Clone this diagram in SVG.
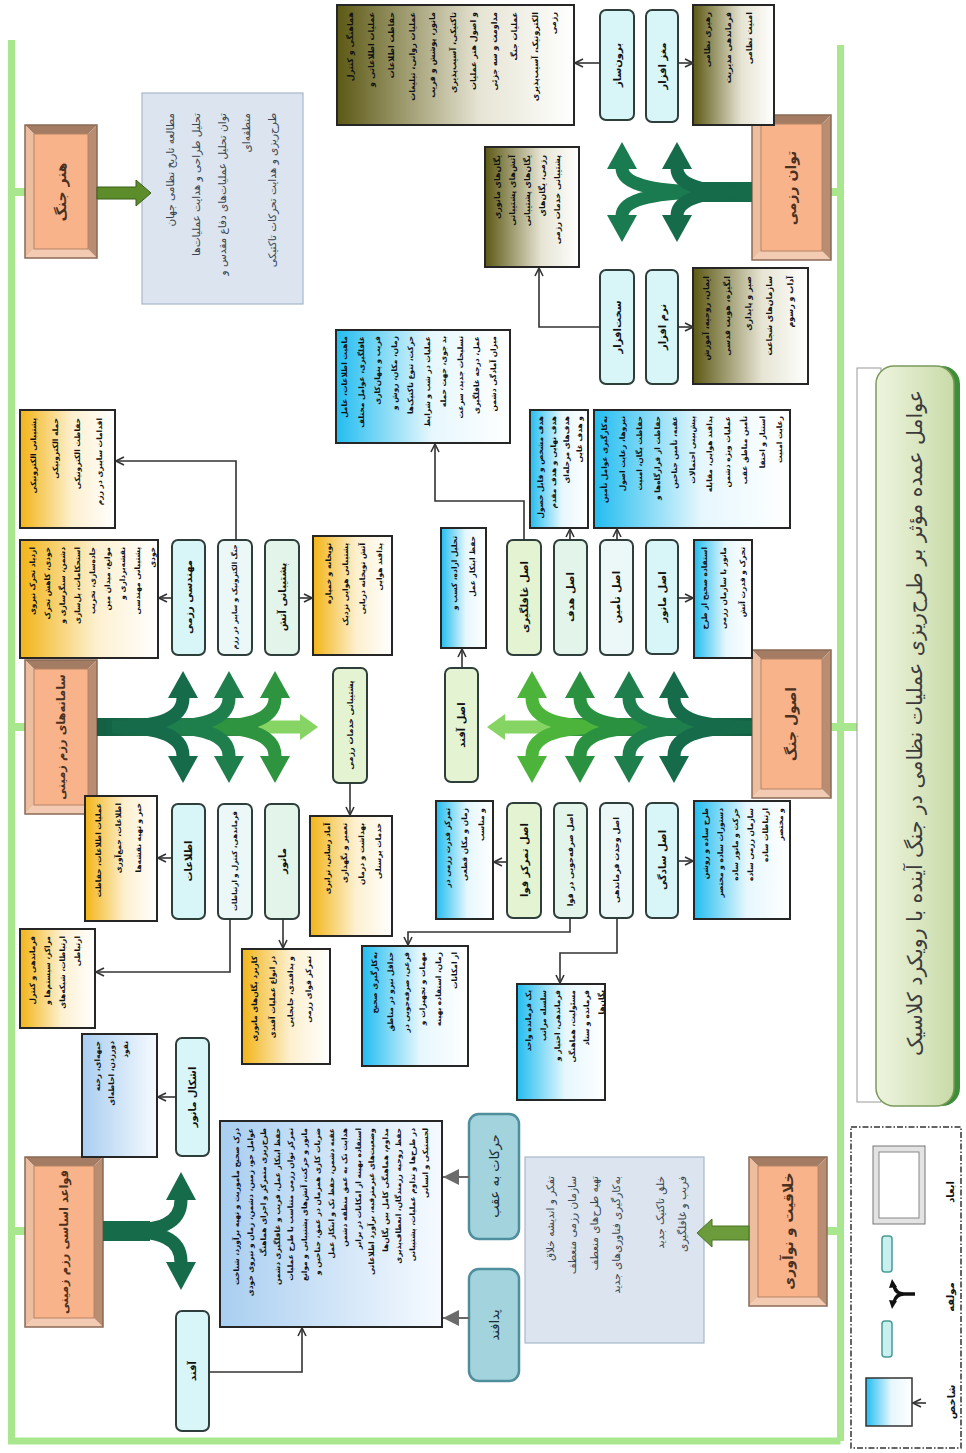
<svg xmlns="http://www.w3.org/2000/svg" width="966" height="1453" viewBox="0 0 966 1453">
<defs>
<style>
text{font-family:"DejaVu Sans","Noto Sans",sans-serif;dominant-baseline:central}
.l{font-size:10px;font-weight:bold;fill:#111;text-anchor:middle}
.ls{font-size:8px;font-weight:bold;fill:#111;text-anchor:middle}
.lx{font-size:7px;font-weight:bold;fill:#111;text-anchor:middle}
.t{font-size:13px;fill:#1d2b30;text-anchor:middle}
.o{font-size:14px;font-weight:bold;fill:#4a3020;text-anchor:middle}
.os{font-size:11.5px;font-weight:bold;fill:#4a3020;text-anchor:middle}
.p{font-size:7.5px;font-weight:bold;fill:#111;text-anchor:end}
.pb{font-size:8px;font-weight:bold;fill:#111;text-anchor:end}
.d{font-size:10.5px;fill:#3a4450;text-anchor:end}
.ti{font-size:20.5px;fill:#3b3b3b;text-anchor:middle}
.bx{stroke:#2e3e3a;stroke-width:2}
.c1{fill:#d8f5f7}.c2{fill:#e4f4d3}.c3{fill:#e3f5ea}.c4{fill:#ecf8f7}
.tl{fill:#a3d4de;stroke:#4f8e9c;stroke-width:2.5}
.gb{fill:url(#gB);stroke:#262626;stroke-width:2}
.gg{fill:url(#gG);stroke:#262626;stroke-width:2}
.go{fill:url(#gO);stroke:#262626;stroke-width:2}
.gl{fill:url(#gL);stroke:#262626;stroke-width:2}
.cn{fill:none;stroke:#333;stroke-width:1.6;marker-end:url(#ah)}
.cg{fill:none;stroke:#666;stroke-width:2;marker-end:url(#ag)}
.fr{stroke:#a9e78e;fill:none}
.desc{fill:#dbe4ef;stroke:#a7b7ca;stroke-width:1.2}
.bt{fill:#a47c63}.bb{fill:#f3cbb2}.bl{fill:#ecbd9f}.br{fill:#b98d72}.bi{fill:#f9b38a;stroke:#b58366;stroke-width:1}.bo{fill:none;stroke:#8a6a56;stroke-width:1.5}
.fk{fill:none;stroke-width:13}
</style>
<linearGradient id="gB" x1="0" y1="0" x2="1" y2="0"><stop offset="0" stop-color="#22bdf0"/><stop offset="0.55" stop-color="#e6f7fd"/><stop offset="1" stop-color="#fff"/></linearGradient>
<linearGradient id="gG" x1="0" y1="0" x2="1" y2="0"><stop offset="0" stop-color="#f2b417"/><stop offset="0.55" stop-color="#fdf0cf"/><stop offset="1" stop-color="#fff"/></linearGradient>
<linearGradient id="gO" x1="0" y1="0" x2="1" y2="0"><stop offset="0" stop-color="#5c5814"/><stop offset="0.6" stop-color="#e6e4d3"/><stop offset="1" stop-color="#fff"/></linearGradient>
<linearGradient id="gL" x1="0" y1="0" x2="1" y2="0"><stop offset="0" stop-color="#a9cef0"/><stop offset="1" stop-color="#f6faff"/></linearGradient>
<linearGradient id="gT" x1="0" y1="0" x2="1" y2="0"><stop offset="0" stop-color="#eef4df"/><stop offset="1" stop-color="#c9dba8"/></linearGradient>
<linearGradient id="gA" gradientUnits="userSpaceOnUse" x1="97" y1="0" x2="300" y2="0"><stop offset="0" stop-color="#125f45"/><stop offset="1" stop-color="#3f9f45"/></linearGradient>
<linearGradient id="gK" gradientUnits="userSpaceOnUse" x1="752" y1="0" x2="490" y2="0"><stop offset="0" stop-color="#125f45"/><stop offset="1" stop-color="#4aae3f"/></linearGradient>
<marker id="ah" markerWidth="10" markerHeight="10" refX="9" refY="5" orient="auto" markerUnits="userSpaceOnUse"><path d="M1,1 L9,5 L1,9" fill="none" stroke="#333" stroke-width="1.6"/></marker>
<marker id="ag" markerWidth="18" markerHeight="16" refX="16" refY="8" orient="auto" markerUnits="userSpaceOnUse"><path d="M0,0 L16,8 L0,16 z" fill="#6b6b6b"/></marker>
</defs>
<rect width="966" height="1453" fill="#fff"/>

<g id="frame">
<path class="fr" stroke-width="7" d="M11.5 40 V1441 H840.5 M840.5 45 V1441"/>
<path class="fr" stroke-width="8" d="M11 192 H25 M11 727 H25 M11 1231 H25 M831 192 H844 M831 727 H857 M827 1231 H844"/>
</g>

<g id="title">
<rect x="857" y="368" width="24" height="734" fill="#fff" stroke="#9a9a9a"/>
<rect x="880" y="366" width="80" height="740" rx="18" fill="#3e8e37"/>
<rect x="876" y="366" width="78" height="740" rx="18" fill="url(#gT)" stroke="#7a9a5a" stroke-width="1.5"/>
<text class="ti" transform="translate(915 723) rotate(-90)">عوامل عمده مؤثر بر طرح‌ریزی عملیات نظامی در جنگ آینده با رویکرد کلاسیک</text>
</g>

<g id="honar-jang">
<polygon class="bt" points="25,125 97,125 88,134 34,134"/><polygon class="bb" points="25,258 97,258 88,249 34,249"/><polygon class="bl" points="25,125 34,134 34,249 25,258"/><polygon class="br" points="97,125 88,134 88,249 97,258"/><rect class="bi" x="34" y="134" width="54" height="115"/><rect class="bo" x="25" y="125" width="72" height="133"/>
<text class="o" transform="translate(61 192) rotate(-90)">هنر جنگ</text>
</g>
<g id="honar-desc">
<rect class="desc" x="142" y="93" width="161" height="211"/>
<text class="d" transform="translate(170 113) rotate(-90)"><tspan x="0" dy="0">مطالعه تاریخ نظامی جهان</tspan><tspan x="0" dy="26">تحلیل طراحی و هدایت عملیات‌ها</tspan><tspan x="0" dy="26">توان تحلیل عملیات‌های دفاع مقدس و</tspan><tspan x="0" dy="24">منطقه‌ای</tspan><tspan x="0" dy="26">طرح‌ریزی و هدایت تحرکات تاکتیکی</tspan></text>
</g>

<g id="tavan-razmi">
<polygon class="bt" points="752,115 831,115 822,124 761,124"/><polygon class="bb" points="752,260 831,260 822,251 761,251"/><polygon class="bl" points="752,115 761,124 761,251 752,260"/><polygon class="br" points="831,115 822,124 822,251 831,260"/><rect class="bi" x="761" y="124" width="61" height="127"/><rect class="bo" x="752" y="115" width="79" height="145"/>
<text class="o" transform="translate(791 188) rotate(-90)">توان رزمی</text>
</g>

<g id="saman">
<polygon class="bt" points="25,660 97,660 88,669 34,669"/><polygon class="bb" points="25,814 97,814 88,805 34,805"/><polygon class="bl" points="25,660 34,669 34,805 25,814"/><polygon class="br" points="97,660 88,669 88,805 97,814"/><rect class="bi" x="34" y="669" width="54" height="136"/><rect class="bo" x="25" y="660" width="72" height="154"/>
<text class="os" transform="translate(61 737) rotate(-90)">سامانه‌های رزم زمینی</text>
</g>

<g id="osul-jang">
<polygon class="bt" points="752,650 831,650 822,659 761,659"/><polygon class="bb" points="752,798 831,798 822,789 761,789"/><polygon class="bl" points="752,650 761,659 761,789 752,798"/><polygon class="br" points="831,650 822,659 822,789 831,798"/><rect class="bi" x="761" y="659" width="61" height="130"/><rect class="bo" x="752" y="650" width="79" height="148"/>
<text class="o" transform="translate(791 724) rotate(-90)">اصول جنگ</text>
</g>

<g id="ghavaed">
<polygon class="bt" points="25,1157 103,1157 94,1166 34,1166"/><polygon class="bb" points="25,1327 103,1327 94,1318 34,1318"/><polygon class="bl" points="25,1157 34,1166 34,1318 25,1327"/><polygon class="br" points="103,1157 94,1166 94,1318 103,1327"/><rect class="bi" x="34" y="1166" width="60" height="152"/><rect class="bo" x="25" y="1157" width="78" height="170"/>
<text class="os" transform="translate(64 1242) rotate(-90)">قواعد اساسی رزم زمینی</text>
</g>

<g id="khalaghiat">
<polygon class="bt" points="749,1157 827,1157 818,1166 758,1166"/><polygon class="bb" points="749,1306 827,1306 818,1297 758,1297"/><polygon class="bl" points="749,1157 758,1166 758,1297 749,1306"/><polygon class="br" points="827,1157 818,1166 818,1297 827,1306"/><rect class="bi" x="758" y="1166" width="60" height="131"/><rect class="bo" x="749" y="1157" width="78" height="149"/>
<text class="o" transform="translate(788 1231) rotate(-90)">خلاقیت و نوآوری</text>
</g>
<g id="khalaghiat-desc">
<rect class="desc" x="525" y="1157" width="179" height="186"/>
<text class="d" transform="translate(550 1176) rotate(-90)"><tspan x="0" dy="0">تفکر و اندیشه خلاق</tspan><tspan x="0" dy="22">سازمان رزمی منعطف</tspan><tspan x="0" dy="22">تهیه طرح‌های منعطف</tspan><tspan x="0" dy="22">به‌کارگیری فناوری‌های جدید</tspan><tspan x="0" dy="44">خلق تاکتیک جدید</tspan><tspan x="0" dy="22">فریب و غافلگیری</tspan></text>
</g>

<g id="n-borunsaz"><rect class="bx c1" x="600" y="10" width="34" height="110" rx="6"/><text class="l" transform="translate(617 65) rotate(-90)">برون‌ساز</text></g>
<g id="n-maghz"><rect class="bx c1" x="646" y="10" width="32" height="112" rx="6"/><text class="l" transform="translate(662 66) rotate(-90)">مغز افزار</text></g>
<g id="n-sakht"><rect class="bx c1" x="600" y="270" width="34" height="114" rx="6"/><text class="l" transform="translate(617 327) rotate(-90)">سخت‌افزار</text></g>
<g id="n-narm"><rect class="bx c1" x="646" y="270" width="32" height="114" rx="6"/><text class="l" transform="translate(662 327) rotate(-90)">نرم افزار</text></g>

<g id="o1"><rect class="go" x="337" y="5" width="237" height="120"/>
<text class="pb" transform="translate(350 12) rotate(-90)"><tspan x="0" dy="0">هماهنگی و کنترل</tspan><tspan x="0" dy="20.5">عملیات اطلاعاتی و</tspan><tspan x="0" dy="20.5">حفاظت اطلاعات</tspan><tspan x="0" dy="20.5">عملیات روانی، تبلیغات</tspan><tspan x="0" dy="20.5">مانور، پوشش و فریب</tspan><tspan x="0" dy="20.5">تاکتیکی، آسیب‌پذیری</tspan><tspan x="0" dy="20.5">و اصول هنر عملیات</tspan><tspan x="0" dy="20.5">مداومت و سه جزئی</tspan><tspan x="0" dy="20.5">عملیات جنگ</tspan><tspan x="0" dy="20.5">الکترونیک، آسیب‌پذیری</tspan><tspan x="0" dy="18">رزمی</tspan></text></g>
<g id="o2"><rect class="go" x="485" y="147" width="94" height="120"/>
<text class="pb" transform="translate(497 155) rotate(-90)"><tspan x="0" dy="0">یگان‌های مانوری</tspan><tspan x="0" dy="15">آتش‌های پشتیبانی</tspan><tspan x="0" dy="15">یگان‌های پشتیبانی</tspan><tspan x="0" dy="15">رزمی، یگان‌های</tspan><tspan x="0" dy="15">پشتیبانی خدمات رزمی</tspan></text></g>
<g id="o3"><rect class="go" x="693" y="5" width="81" height="120"/>
<text class="pb" transform="translate(707 12) rotate(-90)"><tspan x="0" dy="0">رهبری نظامی</tspan><tspan x="0" dy="21">فرماندهی مدیریت</tspan><tspan x="0" dy="21">امنیت نظامی</tspan></text></g>
<g id="o4"><rect class="go" x="693" y="268" width="115" height="116"/>
<text class="pb" transform="translate(706 276) rotate(-90)"><tspan x="0" dy="0">ایمان، روحیه، آموزش</tspan><tspan x="0" dy="21">انگیزه، هویت قدسی</tspan><tspan x="0" dy="21">صبر و پایداری</tspan><tspan x="0" dy="21">سازمان‌های شجاعت</tspan><tspan x="0" dy="21">آداب و رسوم</tspan></text></g>

<g id="n-afand-asl"><rect class="bx c2" x="445" y="668" width="33" height="114" rx="6"/><text class="l" transform="translate(461.5 725) rotate(-90)">اصل آفند</text></g>
<g id="n-ghafel"><rect class="bx c2" x="507" y="540" width="34" height="115" rx="6"/><text class="l" transform="translate(524 597) rotate(-90)">اصل غافلگیری</text></g>
<g id="n-hadaf"><rect class="bx c3" x="554" y="540" width="33" height="115" rx="6"/><text class="l" transform="translate(570.5 597) rotate(-90)">اصل هدف</text></g>
<g id="n-tamin"><rect class="bx c4" x="600" y="540" width="33" height="115" rx="6"/><text class="l" transform="translate(616.5 597) rotate(-90)">اصل تأمین</text></g>
<g id="n-manovr-asl"><rect class="bx c1" x="646" y="540" width="32" height="114" rx="6"/><text class="l" transform="translate(662 597) rotate(-90)">اصل مانور</text></g>
<g id="n-tamarkoz"><rect class="bx c2" x="507" y="803" width="34" height="115" rx="6"/><text class="l" transform="translate(524 860) rotate(-90)">اصل تمرکز قوا</text></g>
<g id="n-sarfe"><rect class="bx c3" x="554" y="803" width="33" height="115" rx="6"/><text class="ls" transform="translate(570.5 860) rotate(-90)">اصل صرفه‌جویی در قوا</text></g>
<g id="n-vahdat"><rect class="bx c4" x="600" y="803" width="33" height="115" rx="6"/><text class="ls" transform="translate(616.5 860) rotate(-90)">اصل وحدت فرماندهی</text></g>
<g id="n-sadegi"><rect class="bx c1" x="646" y="803" width="32" height="115" rx="6"/><text class="l" transform="translate(662 860) rotate(-90)">اصل سادگی</text></g>

<g id="b1"><rect class="gb" x="336" y="330" width="174" height="113"/>
<text class="p" transform="translate(344 336) rotate(-90)"><tspan x="0" dy="0">ماهیت اطلاعات، عامل</tspan><tspan x="0" dy="16.5">غافلگیری، عوامل مختلف</tspan><tspan x="0" dy="16.5">فریب و پنهان‌کاری</tspan><tspan x="0" dy="16.5">زمان، مکان، روش و</tspan><tspan x="0" dy="16.5">حرکت، تنوع تاکتیک‌ها</tspan><tspan x="0" dy="16.5">عملیات در شب و شرایط</tspan><tspan x="0" dy="16.5">بد جوی، جهت حمله</tspan><tspan x="0" dy="16.5">تسلیحات جدید، سرعت</tspan><tspan x="0" dy="16.5">عمل، درجه غافلگیری</tspan><tspan x="0" dy="16.5">میزان آمادگی دشمن</tspan></text></g>
<g id="b2"><rect class="gb" x="530" y="410" width="58" height="118"/>
<text class="p" transform="translate(540 416) rotate(-90)"><tspan x="0" dy="0">هدف مشخص و قابل حصول</tspan><tspan x="0" dy="13">هدف نهایی و هدف مقدم</tspan><tspan x="0" dy="13">هدف‌های مرحله‌ای</tspan><tspan x="0" dy="13">و هدف غایی</tspan></text></g>
<g id="b3"><rect class="gb" x="594" y="410" width="196" height="118"/>
<text class="p" transform="translate(604 416) rotate(-90)"><tspan x="0" dy="0">به‌کارگیری عوامل تأمین</tspan><tspan x="0" dy="17.5">نیروها، رعایت اصول</tspan><tspan x="0" dy="17.5">حفاظت یگان، امنیت</tspan><tspan x="0" dy="17.5">حفاظت از قرارگاه‌ها و</tspan><tspan x="0" dy="17.5">عقبه، تأمین جناحین</tspan><tspan x="0" dy="17.5">پیش‌بینی احتمالات</tspan><tspan x="0" dy="17.5">پدافند هوایی، مقابله</tspan><tspan x="0" dy="17.5">عملیات ویژه دشمن</tspan><tspan x="0" dy="17.5">تأمین مناطق عقب</tspan><tspan x="0" dy="17.5">استتار و اختفا</tspan><tspan x="0" dy="17.5">رعایت امنیت</tspan></text></g>
<g id="b4"><rect class="gb" x="694" y="540" width="58" height="118"/>
<text class="p" transform="translate(704 547) rotate(-90)"><tspan x="0" dy="0">استفاده صحیح از طرح</tspan><tspan x="0" dy="19">مانور با سازمان رزمی</tspan><tspan x="0" dy="19">تحرک و قدرت آتش</tspan></text></g>
<g id="b5"><rect class="gb" x="694" y="801" width="96" height="118"/>
<text class="p" transform="translate(705 808) rotate(-90)"><tspan x="0" dy="0">طرح ساده و روشن</tspan><tspan x="0" dy="15">دستورات ساده و مختصر</tspan><tspan x="0" dy="15">حرکت و مانور ساده</tspan><tspan x="0" dy="15">سازمان رزمی ساده</tspan><tspan x="0" dy="15">ارتباطات ساده</tspan><tspan x="0" dy="15">و مختصر</tspan></text></g>
<g id="b6"><rect class="gb" x="436" y="801" width="57" height="118"/>
<text class="p" transform="translate(447 808) rotate(-90)"><tspan x="0" dy="0">تمرکز قدرت رزمی در</tspan><tspan x="0" dy="17">زمان و مکان قطعی</tspan><tspan x="0" dy="17">و مناسب</tspan></text></g>
<g id="b7"><rect class="gb" x="362" y="946" width="106" height="120"/>
<text class="p" transform="translate(374 952) rotate(-90)"><tspan x="0" dy="0">به‌کارگیری صحیح</tspan><tspan x="0" dy="16">حداقل نیرو در مناطق</tspan><tspan x="0" dy="16">فرعی، صرفه‌جویی در</tspan><tspan x="0" dy="16">مهمات و تجهیزات و</tspan><tspan x="0" dy="16">زمان، استفاده بهینه</tspan><tspan x="0" dy="16">از امکانات</tspan></text></g>
<g id="b8"><rect class="gb" x="517" y="984" width="88" height="116"/>
<text class="p" transform="translate(528 990) rotate(-90)"><tspan x="0" dy="0">یک فرمانده واحد</tspan><tspan x="0" dy="14.5">سلسله مراتب</tspan><tspan x="0" dy="14.5">فرماندهی، اختیار و</tspan><tspan x="0" dy="14.5">مسئولیت، هماهنگی</tspan><tspan x="0" dy="14.5">فرمانده و ستاد</tspan><tspan x="0" dy="14.5">یگان‌ها</tspan></text></g>
<g id="b9"><rect class="gb" x="441" y="528" width="45" height="120"/>
<text class="p" transform="translate(454 536) rotate(-90)"><tspan x="0" dy="0">تحلیل اراده، کسب و</tspan><tspan x="0" dy="18">حفظ ابتکار عمل</tspan></text></g>

<g id="n-poshtibani-khadamat"><rect class="bx c2" x="333" y="668" width="34" height="115" rx="6"/><text class="ls" transform="translate(350 725) rotate(-90)">پشتیبانی خدمات رزمی</text></g>
<g id="n-mohandesi"><rect class="bx c1" x="172" y="540" width="33" height="115" rx="6"/><text class="l" transform="translate(188.5 597) rotate(-90)">مهندسی رزمی</text></g>
<g id="n-jang-elec"><rect class="bx c4" x="218" y="540" width="34" height="115" rx="6"/><text class="lx" transform="translate(235 597) rotate(-90)">جنگ الکترونیک و سایبر در رزم</text></g>
<g id="n-atash"><rect class="bx c3" x="265" y="540" width="34" height="115" rx="6"/><text class="l" transform="translate(282 597) rotate(-90)">پشتیبانی آتش</text></g>
<g id="n-ettelaat"><rect class="bx c1" x="172" y="804" width="33" height="115" rx="6"/><text class="l" transform="translate(188.5 861) rotate(-90)">اطلاعات</text></g>
<g id="n-farmandehi"><rect class="bx c4" x="218" y="804" width="34" height="115" rx="6"/><text class="lx" transform="translate(235 861) rotate(-90)">فرماندهی، کنترل و ارتباطات</text></g>
<g id="n-manovr"><rect class="bx c3" x="265" y="804" width="34" height="115" rx="6"/><text class="l" transform="translate(282 861) rotate(-90)">مانور</text></g>

<g id="g1"><rect class="gg" x="20" y="410" width="95" height="118"/>
<text class="p" transform="translate(33 418) rotate(-90)"><tspan x="0" dy="0">پشتیبانی الکترونیکی</tspan><tspan x="0" dy="22">حمله الکترونیکی</tspan><tspan x="0" dy="22">حفاظت الکترونیکی</tspan><tspan x="0" dy="22">اقدامات سایبری در رزم</tspan></text></g>
<g id="g2"><rect class="gg" x="20" y="540" width="138" height="118"/>
<text class="p" transform="translate(32 547) rotate(-90)"><tspan x="0" dy="0">ازدیاد تحرک نیروی</tspan><tspan x="0" dy="15">خودی، کاهش تحرک</tspan><tspan x="0" dy="15">دشمن، سنگرسازی و</tspan><tspan x="0" dy="15">استحکامات، پل‌سازی</tspan><tspan x="0" dy="15">جاده‌سازی، تخریب</tspan><tspan x="0" dy="15">موانع، میدان مین</tspan><tspan x="0" dy="15">نقشه‌برداری و</tspan><tspan x="0" dy="15">پشتیبانی مهندسی</tspan><tspan x="0" dy="15">خودی</tspan></text></g>
<g id="g3"><rect class="gg" x="313" y="536" width="79" height="119"/>
<text class="p" transform="translate(328 543) rotate(-90)"><tspan x="0" dy="0">توپخانه و خمپاره</tspan><tspan x="0" dy="17">پشتیبانی هوایی نزدیک</tspan><tspan x="0" dy="17">آتش توپخانه دریایی</tspan><tspan x="0" dy="17">پدافند هوایی</tspan></text></g>
<g id="g4"><rect class="gg" x="310" y="816" width="82" height="120"/>
<text class="p" transform="translate(327 823) rotate(-90)"><tspan x="0" dy="0">آماد رسانی، ترابری</tspan><tspan x="0" dy="17">تعمیر و نگهداری</tspan><tspan x="0" dy="17">بهداشت و درمان</tspan><tspan x="0" dy="17">خدمات پرسنلی</tspan></text></g>
<g id="g5"><rect class="gg" x="85" y="796" width="72" height="125"/>
<text class="p" transform="translate(98 803) rotate(-90)"><tspan x="0" dy="0">عملیات اطلاعات، حفاظت</tspan><tspan x="0" dy="20">اطلاعات، جمع‌آوری</tspan><tspan x="0" dy="20">خبر و تهیه نقشه‌ها</tspan></text></g>
<g id="g6"><rect class="gg" x="20" y="929" width="75" height="99"/>
<text class="p" transform="translate(32 936) rotate(-90)"><tspan x="0" dy="0">فرماندهی و کنترل</tspan><tspan x="0" dy="15">مراکز، سیستم‌ها و</tspan><tspan x="0" dy="15">ارتباطات، شبکه‌های</tspan><tspan x="0" dy="15">ارتباطی</tspan></text></g>
<g id="g7"><rect class="gg" x="242" y="949" width="88" height="115"/>
<text class="p" transform="translate(254 956) rotate(-90)"><tspan x="0" dy="0">کاربرد یگان‌های مانوری</tspan><tspan x="0" dy="18">در انواع عملیات آفندی</tspan><tspan x="0" dy="18">و پدافندی، جابجایی</tspan><tspan x="0" dy="18">تمرکز قوای رزمی</tspan></text></g>

<g id="n-ashkal"><rect class="bx c1" x="176" y="1038" width="33" height="118" rx="6"/><text class="l" transform="translate(192.5 1097) rotate(-90)">اشکال مانور</text></g>
<g id="lb"><rect class="gl" x="82" y="1034" width="75" height="123"/>
<text class="p" transform="translate(97 1041) rotate(-90)"><tspan x="0" dy="0">جبهه‌ای، رخنه</tspan><tspan x="0" dy="14">دورزدن، احاطه‌ای</tspan><tspan x="0" dy="14">نفوذ</tspan></text></g>
<g id="n-afand"><rect class="bx c1" x="176" y="1311" width="33" height="120" rx="6"/><text class="l" transform="translate(192.5 1371) rotate(-90)">آفند</text></g>
<g id="n-harakat"><rect class="tl" x="469" y="1114" width="50" height="125" rx="10"/><text class="t" transform="translate(494 1176) rotate(-90)">حرکات به عقب</text></g>
<g id="n-padafand"><rect class="tl" x="469" y="1269" width="50" height="112" rx="10"/><text class="t" transform="translate(494 1325) rotate(-90)">پدافند</text></g>
<g id="q"><rect class="gl" x="220" y="1121" width="222" height="206"/>
<text class="p" transform="translate(236 1128) rotate(-90)"><tspan x="0" dy="0">درک صحیح مأموریت و تهیه برآورد، شناخت</tspan><tspan x="0" dy="13.5">عوامل جو، زمین، دشمن، زمان و نیروی خودی</tspan><tspan x="0" dy="13.5">طرح‌ریزی متمرکز و اجرای هماهنگ</tspan><tspan x="0" dy="13.5">حفظ ابتکار عمل، فریب و غافلگیری دشمن</tspan><tspan x="0" dy="13.5">تمرکز توان رزمی متناسب با طرح عملیات</tspan><tspan x="0" dy="13.5">مانور و حرکت، آتش‌های پشتیبانی و موانع</tspan><tspan x="0" dy="13.5">ضربات کاری همزمان در عمق، جناحین و</tspan><tspan x="0" dy="13.5">عقبه دشمن، حفظ تک و ابتکار عمل</tspan><tspan x="0" dy="13.5">هدایت تک به عمق منطقه دشمن</tspan><tspan x="0" dy="13.5">استفاده بهینه از امکانات در برابر</tspan><tspan x="0" dy="13.5">وضعیت‌های غیرمترقبه، برآورد اطلاعاتی</tspan><tspan x="0" dy="13.5">مداوم، هماهنگی کامل بین یگان‌ها</tspan><tspan x="0" dy="13.5">حفظ روحیه رزمندگان، انعطاف‌پذیری</tspan><tspan x="0" dy="13.5">در طرح‌ها و تداوم عملیات، پشتیبانی</tspan><tspan x="0" dy="13.5">لجستیکی و انسانی</tspan></text></g>

<g id="connectors">
<path d="M97 727 H255" stroke="url(#gA)" stroke-width="18" fill="none"/>
<path class="fk" stroke="#86d463" stroke-width="10" d="M250 727 H302"/><polygon fill="#86d463" points="318,727 300,714 300,740"/>
<path class="fk" stroke="#2f9440" d="M204 727 C242 727 275 722 275 698 M204 727 C242 727 275 732 275 756"/>
<polygon fill="#2f9440" points="275,671 260,698 290,698"/><polygon fill="#2f9440" points="275,783 260,756 290,756"/>
<path class="fk" stroke="#1e7e4c" d="M158 727 C196 727 229 722 229 698 M158 727 C196 727 229 732 229 756"/>
<polygon fill="#1e7e4c" points="229,671 214,698 244,698"/><polygon fill="#1e7e4c" points="229,783 214,756 244,756"/>
<path class="fk" stroke="#166b4b" d="M112 727 C150 727 183 722 183 698 M112 727 C150 727 183 732 183 756"/>
<polygon fill="#166b4b" points="183,671 168,698 198,698"/><polygon fill="#166b4b" points="183,783 168,756 198,756"/>

<path d="M752 727 H555" stroke="url(#gK)" stroke-width="18" fill="none"/>
<path class="fk" stroke="#86d463" stroke-width="10" d="M560 727 H503"/><polygon fill="#86d463" points="487,727 505,714 505,740"/>
<path class="fk" stroke="#4cb43a" d="M607 727 C569 727 532 722 532 698 M607 727 C569 727 532 732 532 756"/>
<polygon fill="#4cb43a" points="532,671 517,698 547,698"/><polygon fill="#4cb43a" points="532,783 517,756 547,756"/>
<path class="fk" stroke="#2a9140" d="M655 727 C617 727 580 722 580 698 M655 727 C617 727 580 732 580 756"/>
<polygon fill="#2a9140" points="580,671 565,698 595,698"/><polygon fill="#2a9140" points="580,783 565,756 595,756"/>
<path class="fk" stroke="#1e7e4c" d="M705 727 C667 727 629 722 629 698 M705 727 C667 727 629 732 629 756"/>
<polygon fill="#1e7e4c" points="629,671 614,698 644,698"/><polygon fill="#1e7e4c" points="629,783 614,756 644,756"/>
<path class="fk" stroke="#166b4b" d="M752 727 C712 727 674 722 674 698 M752 727 C712 727 674 732 674 756"/>
<polygon fill="#166b4b" points="674,671 659,698 689,698"/><polygon fill="#166b4b" points="674,783 659,756 689,756"/>

<path d="M752 192 H700" stroke="#166b4b" stroke-width="20" fill="none"/>
<path class="fk" stroke="#1a7a50" d="M712 192 C660 192 622 186 622 168 M712 192 C660 192 622 198 622 216"/>
<polygon fill="#1a7a50" points="622,142 607,169 637,169"/><polygon fill="#1a7a50" points="622,242 607,215 637,215"/>
<path class="fk" stroke="#166b4b" d="M742 192 C705 192 677 186 677 168 M742 192 C705 192 677 198 677 216"/>
<polygon fill="#166b4b" points="677,142 662,169 692,169"/><polygon fill="#166b4b" points="677,242 662,215 692,215"/>

<path d="M103 1231 H150" stroke="#166b4b" stroke-width="20" fill="none"/>
<path class="fk" stroke="#166b4b" d="M120 1231 C160 1231 181 1224 181 1200 M120 1231 C160 1231 181 1238 181 1262"/>
<polygon fill="#166b4b" points="181,1172 166,1200 196,1200"/><polygon fill="#166b4b" points="181,1290 166,1262 196,1262"/>

<polygon fill="#5d8c2a" stroke="#3c5e1a" points="97,187 136,187 136,180 151,193 136,206 136,199 97,199"/>
<polygon fill="#6b9b3b" stroke="#4a7226" points="749,1226 712,1226 712,1219 697,1233 712,1247 712,1240 749,1240"/>

<path class="cn" d="M600 63 H575"/>
<path class="cn" d="M678 63 H693"/>
<path class="cn" d="M600 327 H539 V268"/>
<path class="cn" d="M678 327 H693"/>
<path class="cn" d="M524 540 V501 H435 V444"/>
<path class="cn" d="M462 668 V649"/>
<path class="cn" d="M570 540 V529"/>
<path class="cn" d="M617 540 V529"/>
<path class="cn" d="M678 598 H693"/>
<path class="cn" d="M678 861 H693"/>
<path class="cn" d="M617 918 V953 H560 V983"/>
<path class="cn" d="M570 918 V932 H408 V945"/>
<path class="cn" d="M507 862 H494"/>
<path class="cn" d="M350 783 V815"/>
<path class="cn" d="M299 598 H312"/>
<path class="cn" d="M236 540 V461 H116"/>
<path class="cn" d="M172 598 H159"/>
<path class="cn" d="M172 858 H158"/>
<path class="cn" d="M230 919 V972 H96"/>
<path class="cn" d="M283 919 V948"/>
<path class="cn" d="M176 1097 H158"/>
<path class="cn" d="M209 1372 H302 V1328"/>
<path class="cg" d="M469 1177 H443"/>
<path class="cg" d="M469 1318 H443"/>
</g>

<g id="legend">
<rect x="851" y="1127" width="110" height="321" fill="#fff" stroke="#333" stroke-width="1.5" stroke-dasharray="6 2 1.5 2"/>
<rect x="873" y="1146" width="52" height="78" fill="#e3e3e3" stroke="#777"/>
<rect x="879" y="1152" width="40" height="66" fill="#fff" stroke="#888"/>
<text class="l" transform="translate(950 1192) rotate(-90)">ابعاد</text>
<rect x="882" y="1236" width="10" height="36" rx="3" fill="#c8f0ee" stroke="#4a9a94" stroke-width="1.5"/>
<path d="M915 1294 H904 Q896 1294 894 1286 M904 1294 Q896 1294 894 1302" fill="none" stroke="#111" stroke-width="3.5"/>
<polygon fill="#111" points="892,1279 889,1288 897,1287"/><polygon fill="#111" points="892,1309 889,1300 897,1301"/>
<text class="l" transform="translate(950 1297) rotate(-90)">مولفه</text>
<rect x="882" y="1321" width="10" height="36" rx="3" fill="#c8f0ee" stroke="#4a9a94" stroke-width="1.5"/>
<rect x="866" y="1378" width="46" height="48" fill="url(#gB)" stroke="#333" stroke-width="1.5"/>
<path class="cn" d="M926 1403 H913"/>
<text class="l" transform="translate(951 1402) rotate(-90)">شاخص</text>
</g>
</svg>
